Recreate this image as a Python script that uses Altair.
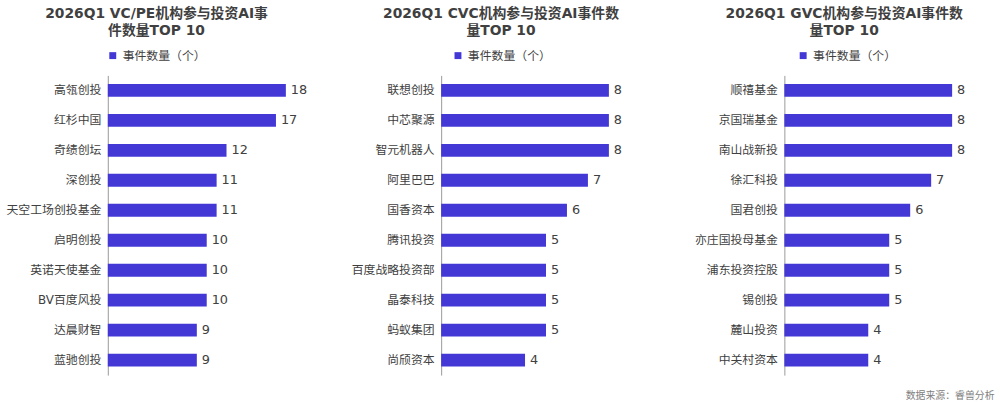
import altair as alt
import pandas as pd

SERIES = "事件数量（个）"

vc_names = ["高瓴创投", "红杉中国", "奇绩创坛", "深创投", "天空工场创投基金",
            "启明创投", "英诺天使基金", "BV百度风投", "达晨财智", "蓝驰创投"]
vc_vals = [18, 17, 12, 11, 11, 10, 10, 10, 9, 9]

cvc_names = ["联想创投", "中芯聚源", "智元机器人", "阿里巴巴", "国香资本",
             "腾讯投资", "百度战略投资部", "晶泰科技", "蚂蚁集团", "尚颀资本"]
cvc_vals = [8, 8, 8, 7, 6, 5, 5, 5, 5, 4]

gvc_names = ["顺禧基金", "京国瑞基金", "南山战新投", "徐汇科投", "国君创投",
             "亦庄国投母基金", "浦东投资控股", "锡创投", "麓山投资", "中关村资本"]
gvc_vals = [8, 8, 8, 7, 6, 5, 5, 5, 4, 4]

titles = [
    ["2026Q1 VC/PE机构参与投资AI事", "件数量TOP 10"],
    ["2026Q1 CVC机构参与投资AI事件数", "量TOP 10"],
    ["2026Q1 GVC机构参与投资AI事件数", "量TOP 10"],
]

BAR = "#4338D6"
FONT = "DejaVu Sans, Noto Sans CJK SC, sans-serif"


def panel(names, vals, title, xmax, width, legend_x):
    df = pd.DataFrame({"name": names, "value": vals, "series": SERIES})
    base = alt.Chart(df).encode(
        y=alt.Y("name:N", sort=names,
                scale=alt.Scale(paddingInner=0.56, paddingOuter=0.28),
                axis=alt.Axis(title=None, ticks=False, domain=True,
                              domainColor="#9a9a9a", domainWidth=1,
                              labelFontSize=12, labelColor="#404040",
                              labelPadding=7, labelFont=FONT)),
        x=alt.X("value:Q", scale=alt.Scale(domain=[0, xmax], nice=False),
                axis=None),
    )
    bars = base.mark_bar(size=13).encode(
        color=alt.Color("series:N",
                        scale=alt.Scale(domain=[SERIES], range=[BAR]),
                        legend=alt.Legend(orient="none", legendX=legend_x,
                                          legendY=-26, title=None,
                                          symbolType="square", symbolSize=49,
                                          symbolStrokeWidth=0,
                                          labelFontSize=12, labelColor="#404040",
                                          labelFont=FONT, padding=0,
                                          labelOffset=4))
    )
    text = base.mark_text(align="left", dx=5, fontSize=13, color="#404040",
                          font=FONT).encode(text="value:Q")
    return alt.layer(bars, text).properties(
        width=width, height=303,
        title=alt.TitleParams(text=title, frame="bounds", anchor="middle",
                              fontSize=14, fontWeight="bold", color="#404040",
                              font=FONT, lineHeight=17, offset=12),
    )


p1 = panel(vc_names, vc_vals, titles[0], 20, 200, -1)
p2 = panel(cvc_names, cvc_vals, titles[1], 10, 212, 11)
p3 = panel(gvc_names, gvc_vals, titles[2], 10, 212, 13)

chart = alt.hconcat(p1, p2, p3, spacing=42).resolve_scale(
    color="independent"
).resolve_legend(color="independent").properties(
    title=alt.TitleParams(text="数据来源：睿兽分析", orient="bottom",
                          anchor="end", fontSize=10, fontWeight="normal",
                          color="#808080", font=FONT, offset=16),
    padding={"left": 5, "top": 4, "right": 5, "bottom": 2},
).configure(background="white").configure_view(stroke="transparent")

chart.save("out.html", embed_options={"renderer": "svg", "actions": False})
